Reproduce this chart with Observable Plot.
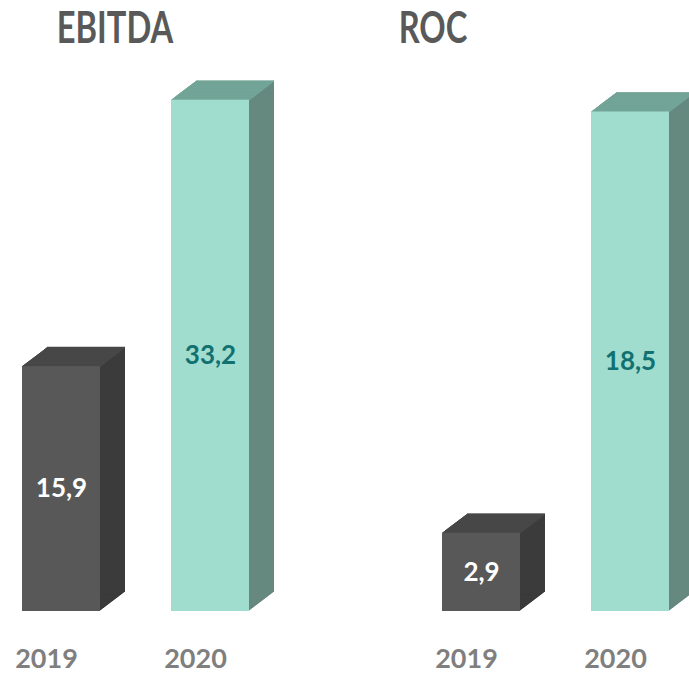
<!DOCTYPE html>
<html>
<head>
<meta charset="utf-8">
<script src="https://cdn.jsdelivr.net/npm/d3@7"></script>
<script src="https://cdn.jsdelivr.net/npm/@observablehq/plot@0.6"></script>
<style>
  html, body { margin: 0; padding: 0; background: #fff; }
  #wrap { position: relative; width: 689px; height: 673px; overflow: hidden; background: #fff; }
  .title { position: absolute; top: 5px; width: 200px; text-align: center; font-family: Lato, sans-serif;
           font-weight: bold; font-size: 43px; line-height: 1; color: #595959; transform: scaleX(0.76); }
  .panel { position: absolute; top: 62px; width: 345px; height: 611px; }
  .panel svg { max-width: none !important; }
</style>
</head>
<body>
<div id="wrap">
  <div class="title" style="left:15px">EBITDA</div>
  <div class="title" style="left:333px">ROC</div>
  <div class="panel" id="p1" style="left:0px"></div>
  <div class="panel" id="p2" style="left:420px"></div>
</div>
<script>
const years = ["2019", "2020"];
const ebitdaValues = [15.9, 33.2];
const rocValues = [2.9, 18.5];
const frontColors = ["#585858", "#a0ddcf"];
const sideColors = ["#3b3b3b", "#66897f"];
const topColors = ["#474747", "#72a596"];
const labelColors = ["#ffffff", "#117171"];

const fmt = v => v.toFixed(1).replace(".", ",");
const DEPTH = 25, RISE = 19;

function makePanel(values, yMax, marginTop) {
  const data = years.map((year, i) => ({
    year, value: values[i],
    front: frontColors[i], side: sideColors[i], top: topColors[i], label: labelColors[i]
  }));
  const marks = [];
  for (let k = 1; k <= DEPTH; k++) {
    marks.push(Plot.barY(data, {x: "year", y: "value", fill: "side", dx: k, dy: -RISE * k / DEPTH}));
  }
  for (let k = 0; k <= DEPTH; k++) {
    marks.push(Plot.tickY(data, {x: "year", y: "value", stroke: "top", strokeWidth: 1.6, dx: k, dy: -RISE * k / DEPTH}));
  }
  marks.push(Plot.barY(data, {x: "year", y: "value", fill: "front"}));
  marks.push(Plot.text(data, {x: "year", y: d => d.value / 2, text: d => fmt(d.value), fill: "label", fontSize: 26}));
  marks.push(Plot.axisX({tickSize: 0, tickPadding: 37, fontSize: 27, fill: "#7f7f7f", dx: -15, label: null}));
  return Plot.plot({
    width: 345,
    height: 611,
    marginLeft: 22,
    marginRight: 95.5,
    marginTop: marginTop,
    marginBottom: 62,
    x: {domain: years, paddingInner: 0.478, paddingOuter: 0, label: null},
    y: {domain: [0, yMax], axis: null},
    color: {type: "identity"},
    style: {fontFamily: "Lato, sans-serif", fontWeight: "bold", background: "transparent", overflow: "visible", maxWidth: "none"},
    marks
  });
}

document.getElementById("p1").appendChild(makePanel(ebitdaValues, 35, 10));
document.getElementById("p2").appendChild(makePanel(rocValues, 20, 9));
</script>
</body>
</html>
